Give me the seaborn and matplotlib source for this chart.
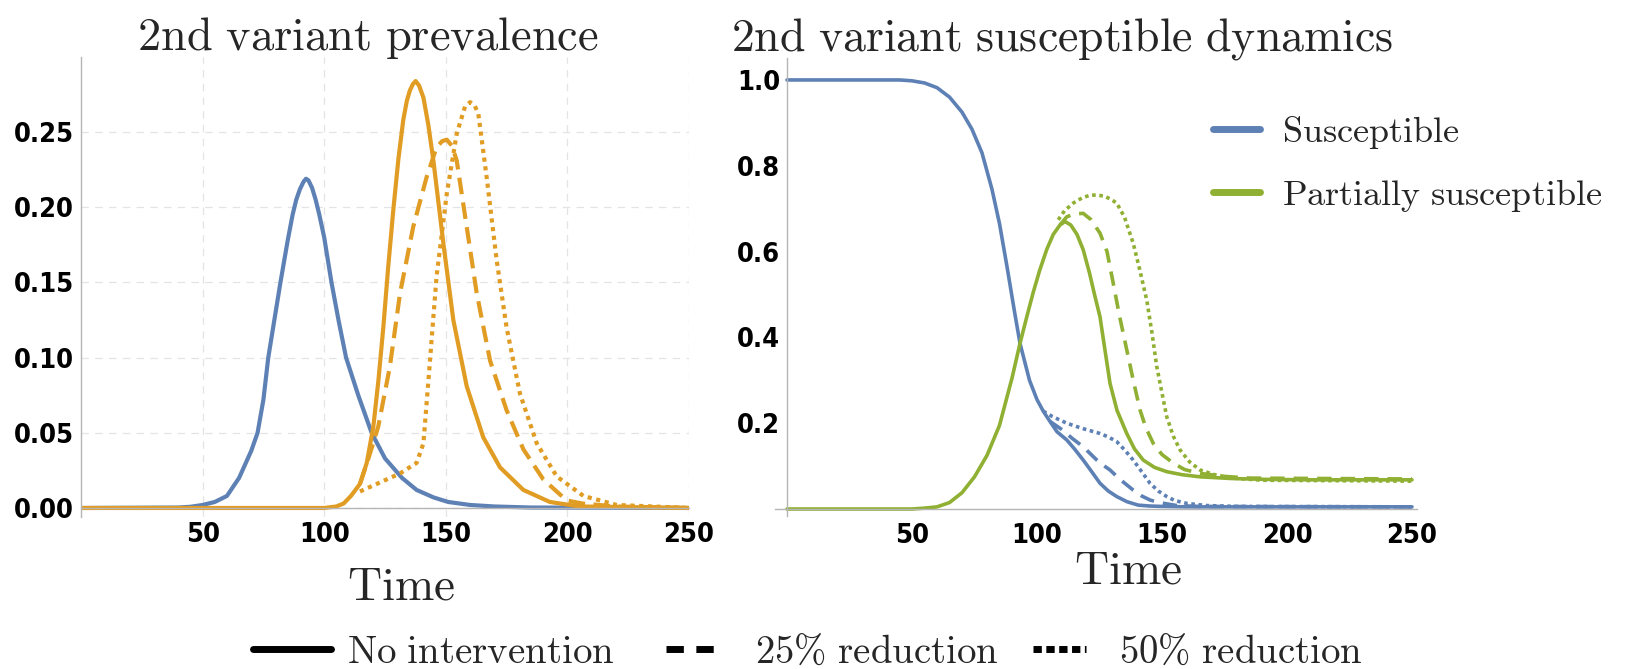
import matplotlib
matplotlib.use('Agg')
import numpy as np
import pandas as pd
import seaborn as sns
import matplotlib.pyplot as plt
from matplotlib.lines import Line2D
from matplotlib.ticker import FixedLocator, MultipleLocator, FormatStrFormatter

# Tema base do seaborn, depois as fontes (set_theme reescreve font.family)
sns.set_theme(style='white')
plt.rcParams['font.family'] = ['DejaVu Sans']
plt.rcParams['font.stretch'] = 'condensed'
plt.rcParams['font.weight'] = 'bold'
plt.rcParams['mathtext.fontset'] = 'cm'

# Cores (paleta padrão do Mathematica)
AZUL = '#5E81B5'
LARANJA = '#E19C24'
VERDE = '#8FB032'

# ---------------- Painel 1: prevalência da 2a variante ----------------
prev_azul_t = [0, 40, 45, 50, 55, 60, 65, 70, 72.6, 75, 77, 80, 82, 85, 87, 88.5, 90,
               91.5, 92.5, 93.5, 95, 96.5, 98, 100, 103, 106, 109, 114, 119.5, 125,
               132, 138, 145, 151, 160, 170, 185, 250]
prev_azul_v = [0, 0.0003, 0.0008, 0.002, 0.004, 0.008, 0.02, 0.038, 0.05, 0.072, 0.10,
               0.13, 0.15, 0.178, 0.195, 0.205, 0.212, 0.217, 0.219, 0.218, 0.213,
               0.205, 0.195, 0.18, 0.15, 0.124, 0.10, 0.075, 0.05, 0.033, 0.02, 0.012,
               0.007, 0.004, 0.002, 0.001, 0.0003, 0]

prev_sem_t = [0, 100, 105, 108, 111, 114.7, 117.5, 120.2, 122.3, 124.3, 126.3, 128.4,
              130.5, 132.5, 134, 135.3, 136.5, 137.6, 139, 140.8, 142.8, 144.9, 149,
              153.1, 158.6, 165.4, 172.3, 181.9, 192.8, 205, 250]
prev_sem_v = [0, 0, 0.001, 0.003, 0.008, 0.016, 0.03, 0.054, 0.085, 0.12, 0.16, 0.198,
              0.232, 0.258, 0.271, 0.278, 0.282, 0.284, 0.281, 0.273, 0.255, 0.231,
              0.176, 0.125, 0.081, 0.047, 0.027, 0.012, 0.004, 0.001, 0]

prev_25_t = [114.7, 118, 122.2, 127, 131.2, 136.6, 142.1, 146.2, 148.5, 150.4, 152.5,
             154.5, 158.6, 162.7, 168.2, 175, 181.9, 190.1, 199.7, 206, 220, 250]
prev_25_v = [0.016, 0.032, 0.054, 0.094, 0.143, 0.187, 0.22, 0.240, 0.244, 0.245,
             0.241, 0.231, 0.187, 0.143, 0.098, 0.065, 0.039, 0.019, 0.005, 0.003,
             0.001, 0]

prev_50_t = [114.7, 121.6, 131.2, 138, 140.8, 143.5, 146.2, 150.4, 154.5, 157.9, 160,
             161.8, 163.4, 166.8, 170.9, 175, 180.5, 187.4, 195.6, 206.6, 220.3, 250]
prev_50_v = [0.011, 0.016, 0.023, 0.030, 0.043, 0.098, 0.154, 0.209, 0.249, 0.267,
             0.270, 0.268, 0.262, 0.22, 0.165, 0.12, 0.076, 0.043, 0.021, 0.008,
             0.002, 0]

# ---------------- Painel 2: dinâmica dos suscetíveis ----------------
sus_t = [0, 45, 50, 55, 60, 65, 70, 74, 78, 82, 85, 88, 91, 93.2, 97, 100, 102.5,
         105.2, 108, 111.9, 115, 118.5, 122, 125.2, 128.5, 131.9, 136, 140.5, 145,
         150, 160, 250]
sus_v = [1.0, 1.0, 0.998, 0.993, 0.982, 0.96, 0.925, 0.885, 0.83, 0.745, 0.665, 0.565,
         0.46, 0.386, 0.30, 0.255, 0.228, 0.204, 0.18, 0.161, 0.14, 0.114, 0.086,
         0.060, 0.042, 0.029, 0.017, 0.009, 0.007, 0.006, 0.005, 0.005]

sus25_t = [105.2, 110, 114, 118.5, 122, 125, 129.2, 133, 138.5, 142, 145.2, 148,
           151.9, 156, 165, 250]
sus25_v = [0.204, 0.185, 0.165, 0.145, 0.125, 0.108, 0.091, 0.07, 0.044, 0.03,
           0.021, 0.016, 0.012, 0.008, 0.006, 0.005]

sus50_t = [102.5, 106, 111.9, 118, 125.2, 128.5, 131.9, 135, 138.5, 142, 145.2,
           148.5, 151.9, 155, 159.9, 168, 180, 250]
sus50_v = [0.228, 0.216, 0.20, 0.188, 0.176, 0.168, 0.157, 0.138, 0.114, 0.086,
           0.06, 0.042, 0.029, 0.02, 0.013, 0.008, 0.006, 0.005]

par_t = [0, 50, 55, 60, 65, 70, 75, 80, 85, 90, 93.2, 96, 98.5, 101, 103.9, 106.5,
         109.2, 111.2, 113.5, 116, 118.5, 121, 123, 125.2, 127.2, 129.2, 132, 135.9,
         139, 142.5, 147, 151.9, 158, 165.2, 178, 191.9, 210, 250]
par_v = [0, 0, 0.002, 0.005, 0.015, 0.038, 0.075, 0.125, 0.195, 0.305, 0.386, 0.45,
         0.505, 0.555, 0.605, 0.64, 0.662, 0.67, 0.662, 0.64, 0.604, 0.55, 0.50,
         0.448, 0.37, 0.293, 0.23, 0.176, 0.14, 0.114, 0.097, 0.087, 0.080, 0.075,
         0.071, 0.069, 0.068, 0.068]

par25_t = [109.2, 111.9, 115, 118.5, 121.5, 125.2, 128, 130.5, 133, 135.9, 138.5,
           141.2, 143.5, 146.5, 150, 154.5, 159, 165.2, 175, 185.2, 250]
par25_v = [0.662, 0.681, 0.688, 0.689, 0.675, 0.643, 0.60, 0.526, 0.45, 0.371, 0.30,
           0.231, 0.19, 0.153, 0.127, 0.107, 0.092, 0.083, 0.076, 0.072, 0.070]

par50_t = [108.5, 111, 114.5, 118, 121, 123.8, 127, 129.5, 131.9, 135, 138.5, 141,
           143.9, 146, 147.9, 150, 151.9, 154.5, 157.2, 161, 165.2, 171, 178.5, 190,
           250]
par50_v = [0.674, 0.695, 0.713, 0.725, 0.731, 0.732, 0.729, 0.722, 0.713, 0.68, 0.619,
           0.56, 0.487, 0.41, 0.332, 0.27, 0.215, 0.17, 0.138, 0.11, 0.091, 0.08,
           0.072, 0.067, 0.065]

# rótulos dos eixos
ticks_x = [50, 100, 150, 200, 250]
ticks_y1 = [0.0, 0.05, 0.10, 0.15, 0.20, 0.25]
ticks_y2 = [0.2, 0.4, 0.6, 0.8, 1.0]

# estilos de linha
TRACO_1 = (0, (4, 2))
PONTO_1 = (0, (1, 1.1))
TRACO_2 = (0, (4, 2.5))
PONTO_2 = (0, (1, 1))

fig = plt.figure(figsize=(16.32, 6.69), dpi=100)
ax1 = fig.add_axes([81 / 1632, 1 - 517 / 669, 608 / 1632, 460 / 669])
ax2 = fig.add_axes([774.5 / 1632, 1 - 516.3 / 669, 642.5 / 1632, 457.8 / 669])

# painel 1
sns.lineplot(x=prev_azul_t, y=prev_azul_v, ax=ax1, color=AZUL, lw=3, sort=False, estimator=None)
sns.lineplot(x=prev_50_t, y=prev_50_v, ax=ax1, color=LARANJA, lw=3, linestyle=PONTO_1, sort=False, estimator=None)
sns.lineplot(x=prev_25_t, y=prev_25_v, ax=ax1, color=LARANJA, lw=3, linestyle=TRACO_1, sort=False, estimator=None)
sns.lineplot(x=prev_sem_t, y=prev_sem_v, ax=ax1, color=LARANJA, lw=3, sort=False, estimator=None)

# painel 2
sns.lineplot(x=sus50_t, y=sus50_v, ax=ax2, color=AZUL, lw=2.6, linestyle=PONTO_2, sort=False, estimator=None)
sns.lineplot(x=sus25_t, y=sus25_v, ax=ax2, color=AZUL, lw=2.6, linestyle=TRACO_2, sort=False, estimator=None)
sns.lineplot(x=sus_t, y=sus_v, ax=ax2, color=AZUL, lw=2.6, sort=False, estimator=None)
sns.lineplot(x=par50_t, y=par50_v, ax=ax2, color=VERDE, lw=2.6, linestyle=PONTO_2, sort=False, estimator=None)
sns.lineplot(x=par25_t, y=par25_v, ax=ax2, color=VERDE, lw=2.6, linestyle=TRACO_2, sort=False, estimator=None)
sns.lineplot(x=par_t, y=par_v, ax=ax2, color=VERDE, lw=2.6, sort=False, estimator=None)

COR_EIXO = '#b5b5b5'

# eixos do painel 1
ax1.set_xlim(0, 250)
ax1.set_ylim(-0.006, 0.30)
ax1.xaxis.set_major_locator(FixedLocator(ticks_x))
ax1.xaxis.set_minor_locator(MultipleLocator(10))
ax1.yaxis.set_major_locator(FixedLocator(ticks_y1))
ax1.yaxis.set_minor_locator(FixedLocator([i / 100 for i in range(1, 30)]))
ax1.yaxis.set_major_formatter(FormatStrFormatter('%.2f'))
ax1.grid(True, which='major', color='#e4e4e4', lw=0.9, ls=(0, (6, 5)))

# eixos do painel 2
ax2.set_xlim(-5, 252)
ax2.set_ylim(-0.017, 1.05)
ax2.xaxis.set_major_locator(FixedLocator(ticks_x))
ax2.xaxis.set_minor_locator(MultipleLocator(10))
ax2.yaxis.set_major_locator(FixedLocator(ticks_y2))
ax2.yaxis.set_minor_locator(MultipleLocator(0.05))
ax2.yaxis.set_major_formatter(FormatStrFormatter('%.1f'))

for ax in (ax1, ax2):
    ax.spines['top'].set_visible(False)
    ax.spines['right'].set_visible(False)
    ax.spines['bottom'].set_position(('data', 0))
    ax.spines['left'].set_color(COR_EIXO)
    ax.spines['bottom'].set_color(COR_EIXO)
    ax.spines['left'].set_linewidth(1)
    ax.spines['bottom'].set_linewidth(1)
    ax.tick_params(axis='both', which='major', direction='in', length=7, width=0.8,
                   color=COR_EIXO, labelsize=19.5, labelcolor='black')
    ax.tick_params(axis='both', which='minor', direction='in', length=4, width=0.6,
                   color=COR_EIXO)
    ax.tick_params(axis='x', which='major', pad=10)
    ax.tick_params(axis='y', which='major', pad=5)
    ax.set_xlabel('')
    ax.set_ylabel('')
    ax.set_facecolor('none')
ax2.spines['left'].set_position(('data', 0))

# títulos e rótulos (fonte tipo Computer Modern)
fig.text(368 / 1632, 1 - 50 / 669, r'$\mathrm{2nd\ variant\ prevalence}$',
         ha='center', va='baseline', fontsize=33.5)
fig.text(1062 / 1632, 1 - 50 / 669, r'$\mathrm{2nd\ variant\ susceptible\ dynamics}$',
         ha='center', va='baseline', fontsize=33)
fig.text(401 / 1632, 1 - 600 / 669, r'$\mathrm{Time}$', ha='center', va='baseline', fontsize=34)
fig.text(1128 / 1632, 1 - 583 / 669, r'$\mathrm{Time}$', ha='center', va='baseline', fontsize=34)

# legenda das cores (painel 2)
alcas_cor = [Line2D([], [], color=AZUL, lw=5), Line2D([], [], color=VERDE, lw=5)]
ax2.legend(alcas_cor, [r'$\mathrm{Susceptible}$', r'$\mathrm{Partially\ susceptible}$'],
           loc='upper left', bbox_to_anchor=(1213 / 1632, 1 - 114 / 669),
           bbox_transform=fig.transFigure, frameon=False, fontsize=26,
           handlelength=1.3, handletextpad=0.6, labelspacing=0.72,
           borderpad=0, borderaxespad=0)

# legenda dos estilos (embaixo): um item por legenda para acertar as posições
itens_estilo = [
    ('-', r'$\mathrm{No\ intervention}$', 253, 2.0, 0.42),
    ((0, (2.5, 1.8)), r'$\mathrm{25\%\ reduction}$', 666, 1.34, 0.95),
    ((0, (1.2, 0.65)), r'$\mathrm{50\%\ reduction}$', 1033, 1.36, 0.85),
]
for estilo, rotulo, x0, comp, folga in itens_estilo:
    leg = fig.legend([Line2D([], [], color='black', lw=5, linestyle=estilo)], [rotulo],
                     loc='center left', bbox_to_anchor=(x0 / 1632, 1 - 652 / 669),
                     frameon=False, fontsize=28, handlelength=comp,
                     handletextpad=folga, borderpad=0, borderaxespad=0)

fig.savefig('out.png', dpi=100)
